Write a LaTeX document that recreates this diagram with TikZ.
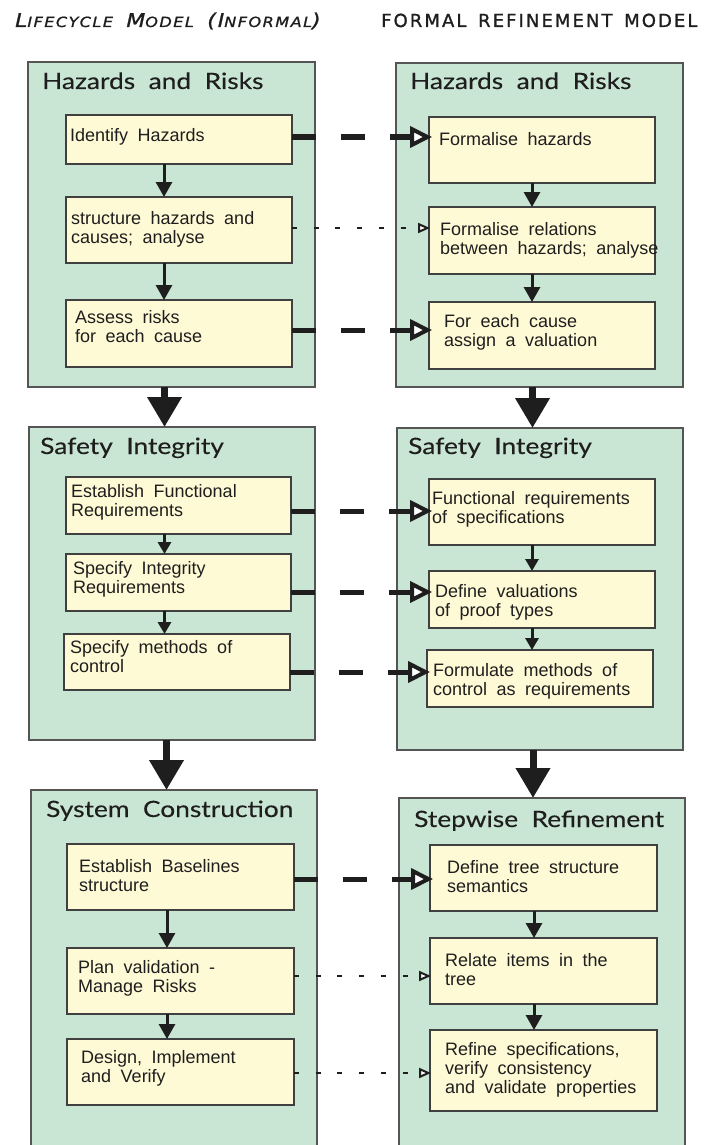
\documentclass[tikz,border=0pt]{standalone}
\usepackage{fontspec}
\setmainfont{Liberation Sans}
\newfontfamily\bodyfont[WordSpace=1.9]{Liberation Sans}
\newfontfamily\headfont[WordSpace=2.0,FakeStretch=1.17,FakeBold=0.2]{Lato}
\newfontfamily\titlefont[LetterSpace=11.5,WordSpace=1.5,FakeBold=1.2]{DejaVu Sans}
\newfontfamily\titlefontwide[LetterSpace=10.5,WordSpace=1.5,FakeStretch=1.15,FakeBold=1.2]{DejaVu Sans}
\usetikzlibrary{arrows.meta,calc}

\definecolor{panelgreen}{HTML}{C9E5D3}
\definecolor{cardyellow}{HTML}{FFFAD6}
\definecolor{edgegrey}{HTML}{555555}
\definecolor{ink}{HTML}{1E1E1E}

% rectangle node given by its two corners: style, name, x1, y1, x2, y2
\newcommand\boxat[6]{%
  \node[#1, minimum width={#5-#3}, minimum height={#6-#4}] (#2)
    at ({(#3+#5)/2},{(#4+#6)/2}) {};}
% left-aligned lines whose baseline is that of the first line
\newcommand\lines[1]{\begin{tabular}[t]{@{}l@{}}#1\end{tabular}}
\newcommand\sm{\fontsize{14}{15}\selectfont}

\tikzset{
  x=1pt, y=-1pt,
  panel/.style={draw=edgegrey, line width=1.2pt, fill=panelgreen, inner sep=0pt, outer sep=0pt},
  card/.style={draw=ink!85, line width=1.1pt, fill=cardyellow, inner sep=0pt, outer sep=0pt},
  body/.style={anchor=base west, inner sep=0pt, text=ink,
    font=\bodyfont\fontsize{18}{19}\selectfont},
  heading/.style={anchor=base west, inner sep=0pt, text=ink,
    font=\headfont\fontsize{22.5}{26}\selectfont},
  toptitle/.style={anchor=base west, inner sep=0pt, text=ink,
    font=\titlefont\fontsize{18}{20}\selectfont},
  flow/.style={draw=ink, line width=3pt, -{Triangle[length=15pt,width=16pt]}},
  flowsmall/.style={draw=ink, line width=3pt, -{Triangle[length=12pt,width=13pt]}},
  bigflow/.style={draw=ink, line width=7pt, -{Triangle[length=30pt,width=33pt]}},
  linkstrong/.style={draw=ink, line width=5pt, dash pattern=on 24pt off 25pt,
    -{Triangle[length=22pt,width=21pt,fill=white,line width=4pt]}},
  linkweak/.style={draw=ink, line width=2.6pt, dash pattern=on 5pt off 16.7pt,
    -{Triangle[length=12pt,width=10pt,fill=white,line width=2pt]}},
}

\begin{document}
\begin{tikzpicture}
\useasboundingbox (0,0) rectangle (713,1145);
\clip (0,0) rectangle (713,1145);
\fill[white] (0,0) rectangle (713,1145);

% column titles
\node[toptitle, font=\titlefontwide\itshape\fontsize{19}{20}\selectfont] (ltitle) at (15,27)
  {L{\sm IFECYCLE} M{\sm ODEL} (I{\sm NFORMAL})};
\node[toptitle] (rtitle) at (381,27) {FORMAL REFINEMENT MODEL};

% stage panels
\boxat{panel}{LH}{28}{62}{315}{387}
\boxat{panel}{LS}{29}{427}{315}{740}
\boxat{panel}{LC}{31}{790}{317}{1170}
\boxat{panel}{RH}{396}{63}{683}{387}
\boxat{panel}{RS}{397}{428}{683}{750}
\boxat{panel}{RC}{399}{798}{685}{1170}

\node[heading] (hLH) at (42,89)  {Hazards and Risks};
\node[heading] (hRH) at (410,89) {Hazards and Risks};
\node[heading] (hLS) at (40,454) {Safety Integrity};
\node[heading] (hRS) at (408,454) {Safety Integrity};
\node[heading] (hLC) at (46,817) {System Construction};
\node[heading] (hRC) at (414,827) {Stepwise Refinement};

% activity cards, informal side
\boxat{card}{a1}{66}{115}{292}{164}
\boxat{card}{a2}{66}{197}{292}{263}
\boxat{card}{a3}{66}{300}{292}{367}
\boxat{card}{b1}{66}{477}{291}{534}
\boxat{card}{b2}{66}{554}{291}{611}
\boxat{card}{b3}{64}{634}{290}{690}
\boxat{card}{c1}{67}{844}{294}{910}
\boxat{card}{c2}{67}{948}{294}{1014}
\boxat{card}{c3}{67}{1039}{294}{1105}

% activity cards, formal side
\boxat{card}{d1}{429}{117}{655}{183}
\boxat{card}{d2}{429}{207}{655}{274}
\boxat{card}{d3}{429}{302}{655}{369}
\boxat{card}{e1}{429}{479}{655}{545}
\boxat{card}{e2}{429}{571}{655}{628}
\boxat{card}{e3}{427}{650}{653}{707}
\boxat{card}{f1}{430}{845}{657}{911}
\boxat{card}{f2}{430}{938}{657}{1004}
\boxat{card}{f3}{430}{1030}{657}{1111}

% card texts
\node[body] at (70,141)  {Identify Hazards};
\node[body] at (71,224)  {\lines{structure hazards and\\causes; analyse}};
\node[body] at (75,323)  {\lines{Assess risks\\for each cause}};
\node[body] at (71,497)  {\lines{Establish Functional\\Requirements}};
\node[body] at (73,574)  {\lines{Specify Integrity\\Requirements}};
\node[body] at (70,653)  {\lines{Specify methods of\\control}};
\node[body] at (79,872)  {\lines{Establish Baselines\\structure}};
\node[body] at (78,973)  {\lines{Plan validation -\\Manage Risks}};
\node[body] at (81,1063) {\lines{Design, Implement\\and Verify}};

\node[body] at (439,145) {Formalise hazards};
\node[body] at (440,235) {\lines{Formalise relations\\between hazards; analyse}};
\node[body] at (444,327) {\lines{For each cause\\assign a valuation}};
\node[body] at (432,504) {\lines{Functional requirements\\of specifications}};
\node[body] at (435,597) {\lines{Define valuations\\of proof types}};
\node[body] at (433,676) {\lines{Formulate methods of\\control as requirements}};
\node[body] at (447,873) {\lines{Define tree structure\\semantics}};
\node[body] at (445,966) {\lines{Relate items in the\\tree}};
\node[body] at (445,1055) {\lines{Refine specifications,\\verify consistency\\and validate properties}};

% columns of the vertical arrows and rows of the cross links
\coordinate (xa) at (164,0);   \coordinate (xb) at (164.5,0); \coordinate (xc) at (167,0);
\coordinate (xd) at (532,0);   \coordinate (xe) at (532,0);   \coordinate (xf) at (534,0);
\coordinate (xL1) at (164.5,0); \coordinate (xL2) at (166.5,0);
\coordinate (xR1) at (532.5,0); \coordinate (xR2) at (533,0);
\coordinate (r1) at (0,137);  \coordinate (r2) at (0,228);  \coordinate (r3) at (0,330);
\coordinate (r4) at (0,511);  \coordinate (r5) at (0,592);  \coordinate (r6) at (0,672);
\coordinate (r7) at (0,879);  \coordinate (r8) at (0,976);  \coordinate (r9) at (0,1073);

% flow inside each stage
\draw[flow] (a1.south -| xa) -- (a2.north -| xa);
\draw[flow] (a2.south -| xa) -- (a3.north -| xa);
\draw[flowsmall] (b1.south -| xb) -- (b2.north -| xb);
\draw[flowsmall] (b2.south -| xb) -- (b3.north -| xb);
\draw[flow] (c1.south -| xc) -- (c2.north -| xc);
\draw[flow] (c2.south -| xc) -- (c3.north -| xc);
\draw[flow] (d1.south -| xd) -- (d2.north -| xd);
\draw[flow] (d2.south -| xd) -- (d3.north -| xd);
\draw[flowsmall] (e1.south -| xe) -- (e2.north -| xe);
\draw[flowsmall] (e2.south -| xe) -- (e3.north -| xe);
\draw[flow] (f1.south -| xf) -- (f2.north -| xf);
\draw[flow] (f2.south -| xf) -- (f3.north -| xf);

% flow between stages
\draw[bigflow] (LH.south -| xL1) -- (LS.north -| xL1);
\draw[bigflow] (LS.south -| xL2) -- (LC.north -| xL2);
\draw[bigflow] (RH.south -| xR1) -- (RS.north -| xR1);
\draw[bigflow] (RS.south -| xR2) -- (RC.north -| xR2);

% links from the informal activities to their formal counterparts
\draw[linkstrong] (a1.east |- r1) -- ($(d1.west |- r1)+(3,0)$);
\draw[linkweak]   (a2.east |- r2) -- ($(d2.west |- r2)+(1,0)$);
\draw[linkstrong] (a3.east |- r3) -- ($(d3.west |- r3)+(3,0)$);
\draw[linkstrong] (b1.east |- r4) -- ($(e1.west |- r4)+(3,0)$);
\draw[linkstrong] (b2.east |- r5) -- ($(e2.west |- r5)+(3,0)$);
\draw[linkstrong] (b3.east |- r6) -- ($(e3.west |- r6)+(3,0)$);
\draw[linkstrong] (c1.east |- r7) -- ($(f1.west |- r7)+(3,0)$);
\draw[linkweak]   (c2.east |- r8) -- ($(f2.west |- r8)+(1,0)$);
\draw[linkweak]   (c3.east |- r9) -- ($(f3.west |- r9)+(1,0)$);
\end{tikzpicture}
\end{document}
